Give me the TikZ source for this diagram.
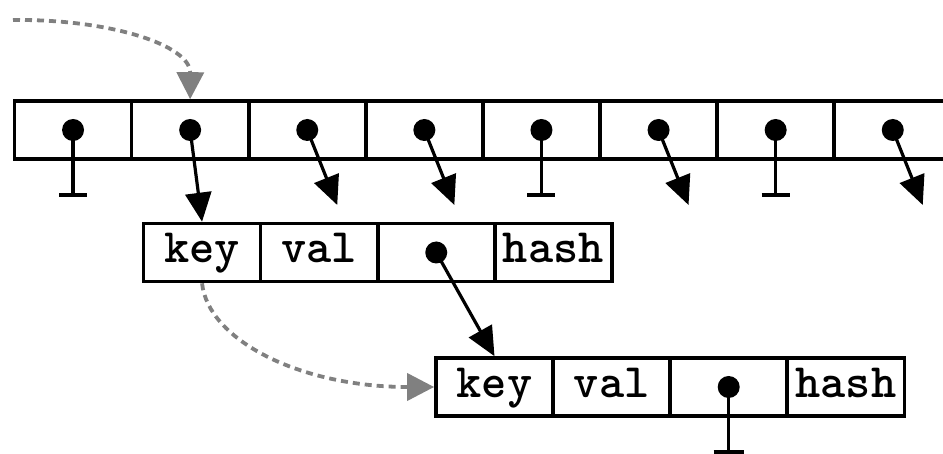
\documentclass[tikz,border=0pt]{standalone}
\usepackage{fontspec}
\newfontfamily\codefont{lmmonolt10-bold.otf}
\usetikzlibrary{arrows.meta}
\definecolor{linkgray}{RGB}{128,128,128}
\begin{document}
\begin{tikzpicture}[x=1pt,y=-1pt,
  cell/.style={draw, line width=3.6pt, minimum width=117.1pt, minimum height=58pt,
    inner sep=0pt, text height=30pt, text depth=9pt,
    font=\codefont\fontsize{48}{48}\selectfont},
  dot/.style={circle, fill, inner sep=0pt, minimum size=22pt},
  ptr/.style={line width=3.2pt, -{Triangle[length=29pt,width=26pt]}},
  nil/.style={line width=3.2pt},
  link/.style={draw=linkgray, line width=3.8pt, dash pattern=on 7pt off 5pt,
    -{Triangle[length=27pt,width=27pt]}}]
\useasboundingbox (0,0) rectangle (943,454);
\clip (0,0) rectangle (943,454);

% bucket array
\foreach \i in {0,...,7} {
  \node[cell] (a\i) at ({73.05+117.1*\i},130) {};
  \node[dot] (d\i) at (a\i) {};
}

% first entry
\node[cell] (k1) at (202.05,252.5) {key};
\node[cell] (v1) at (319.15,252.5) {val};
\node[cell] (p1) at (436.25,252.5) {};
\node[cell] (h1) at (553.35,252.5) {hash};
\node[dot] (q1) at (p1) {};

% second entry
\node[cell] (k2) at (494.5,387) {key};
\node[cell] (v2) at (611.6,387) {val};
\node[cell] (p2) at (728.7,387) {};
\node[cell] (h2) at (845.8,387) {hash};
\node[dot] (q2) at (p2) {};

% empty buckets
\foreach \i in {0,4,6} {
  \path (a\i.center) ++(0,65) coordinate (e\i);
  \draw[nil] (d\i.center) -- (e\i);
  \draw[nil] (e\i) ++(-14,0) -- ++(28,0);
}
\path (p2.center) ++(0,65) coordinate (e8);
\draw[nil] (q2.center) -- (e8);
\draw[nil] (e8) ++(-15,0) -- ++(30,0);

% bucket pointers
\draw[ptr] (d1.center) -- (k1.north);
\foreach \i in {2,3,5,7} {
  \path (d\i.center) ++(30,75) coordinate (t\i);
  \draw[ptr] (d\i.center) -- (t\i);
}
\draw[ptr] (q1.center) -- (k2.north);

% insertion order links
\coordinate (s0) at (13,20);
\draw[link] (s0) .. controls (110,19) and (190.5,45) .. (a1.north);
\path (k1.south) coordinate (s1);
\draw[link] (s1) .. controls (208,340) and (300,387) .. (k2.west);
\end{tikzpicture}
\end{document}
